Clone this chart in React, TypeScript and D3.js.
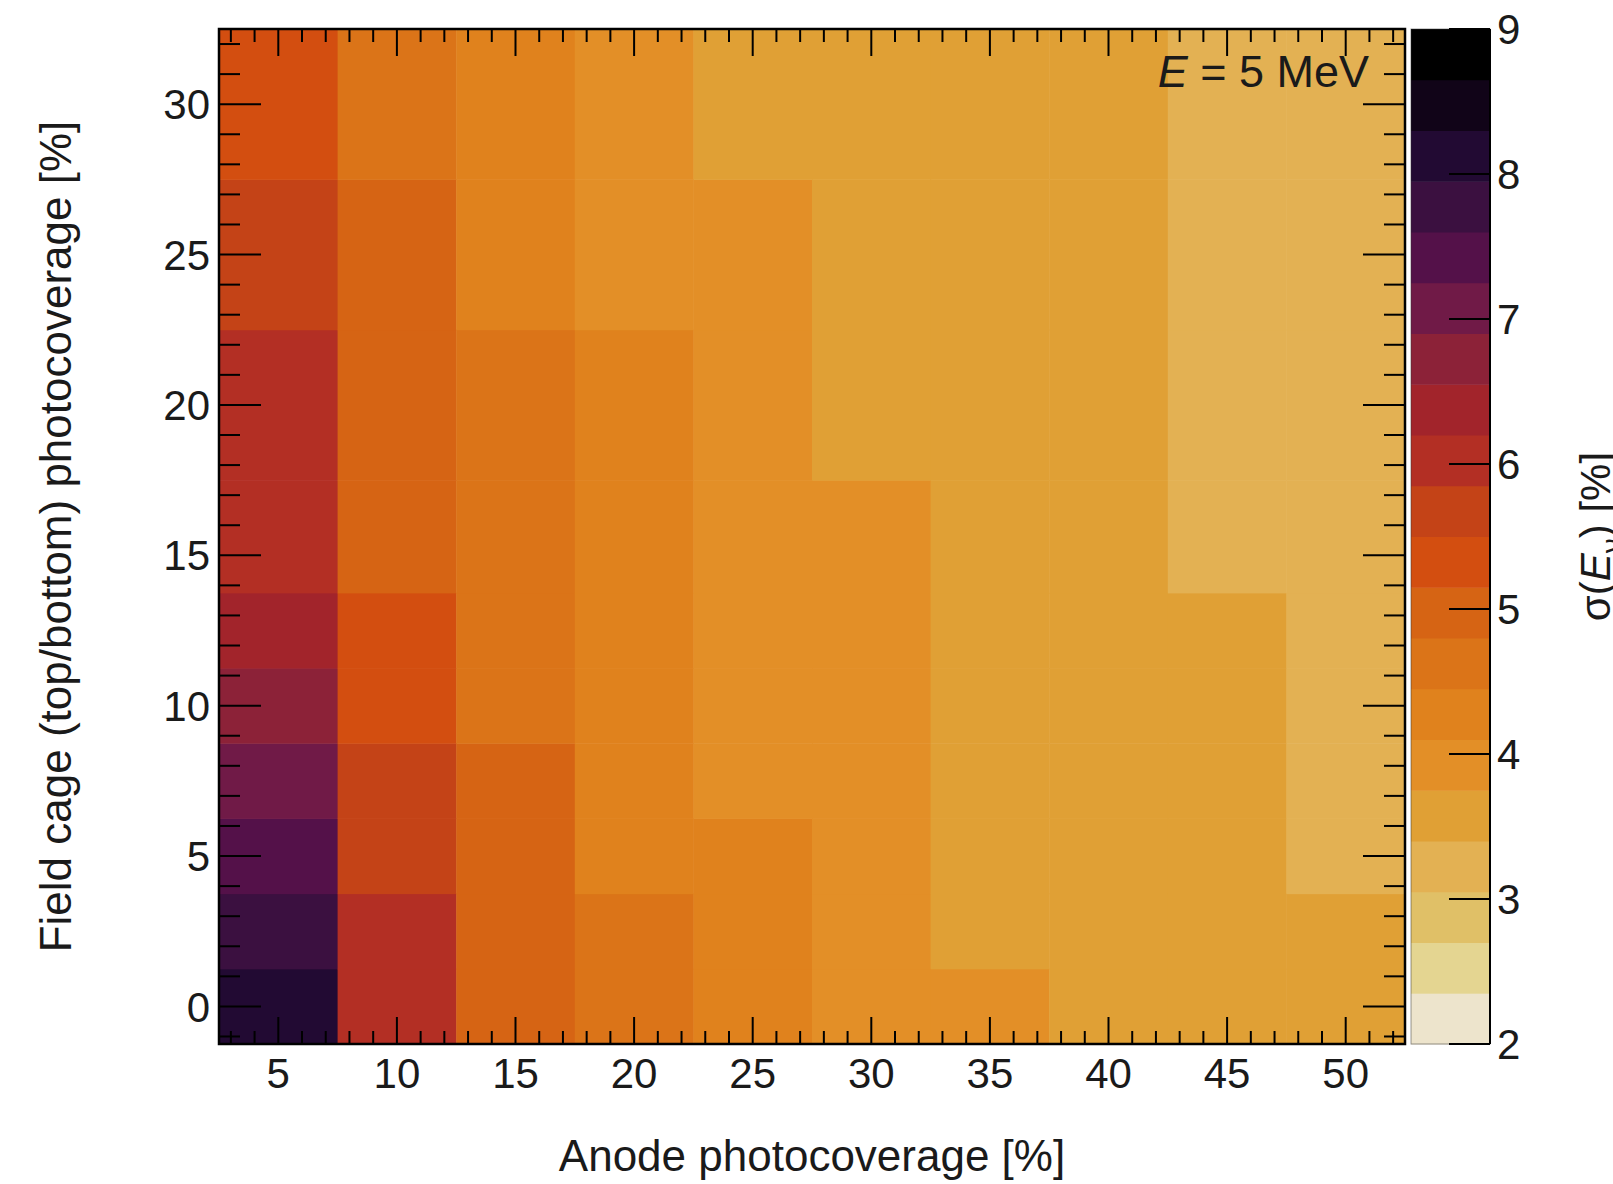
import React, { useEffect } from "react";
import * as d3 from "d3";

// bin centres
const anodeCoverage = [5, 10, 15, 20, 25, 30, 35, 40, 45, 50];
const fieldCageCoverage = [0, 2.5, 5, 7.5, 10, 12.5, 15, 20, 25, 30];

// sigma(E) [%] per anode column, listed from field cage 0% up to 30%
const sigmaAnode5 = [8.12, 7.78, 7.41, 7.06, 6.7, 6.35, 6.05, 5.98, 5.7, 5.33];
const sigmaAnode10 = [6.1, 5.95, 5.72, 5.6, 5.4, 5.25, 5.02, 4.95, 4.88, 4.6];
const sigmaAnode15 = [5.05, 4.98, 4.9, 4.83, 4.7, 4.58, 4.52, 4.47, 4.3, 4.2];
const sigmaAnode20 = [4.65, 4.5, 4.4, 4.35, 4.28, 4.22, 4.18, 4.12, 4.02, 3.9];
const sigmaAnode25 = [4.38, 4.25, 4.15, 4.05, 3.98, 3.92, 3.88, 3.84, 3.8, 3.6];
const sigmaAnode30 = [4.02, 3.98, 3.94, 3.9, 3.86, 3.82, 3.78, 3.7, 3.62, 3.52];
const sigmaAnode35 = [3.8, 3.72, 3.68, 3.64, 3.6, 3.57, 3.54, 3.5, 3.46, 3.42];
const sigmaAnode40 = [3.72, 3.68, 3.64, 3.6, 3.56, 3.52, 3.5, 3.46, 3.44, 3.41];
const sigmaAnode45 = [3.68, 3.63, 3.58, 3.54, 3.49, 3.44, 3.38, 3.3, 3.25, 3.18];
const sigmaAnode50 = [3.62, 3.52, 3.38, 3.33, 3.28, 3.24, 3.2, 3.15, 3.12, 3.08];

const sigmaByAnode = [
  sigmaAnode5, sigmaAnode10, sigmaAnode15, sigmaAnode20, sigmaAnode25,
  sigmaAnode30, sigmaAnode35, sigmaAnode40, sigmaAnode45, sigmaAnode50,
];

const xTickLabels = [5, 10, 15, 20, 25, 30, 35, 40, 45, 50];
const yTickLabels = [0, 5, 10, 15, 20, 25, 30];
const zTickLabels = [2, 3, 4, 5, 6, 7, 8, 9];

// 20 contour colours, low -> high
const palette = [
  "#ede4cc", "#e4d591", "#e0c067", "#e3b153", "#e0a035",
  "#e38f27", "#e0821d", "#db7418", "#d66414", "#d34e10",
  "#c44317", "#b32f24", "#a2242b", "#8c2238", "#701a47",
  "#541149", "#3b1040", "#220a33", "#110418", "#000000",
];

const W = 1613;
const H = 1184;
const left = 219, right = 1405, top = 29, bottom = 1044;
const barL = 1411, barR = 1490;
const font = "'Liberation Sans', Arial, Helvetica, sans-serif";
const ink = "#1a1a1a";

const App = () => {
  useEffect(() => {
    document.body.style.margin = "0";
    document.body.style.overflow = "hidden";
  }, []);

  const x = d3.scaleLinear().domain([2.5, 52.5]).range([left, right]);
  const y = d3.scaleLinear().domain([-1.25, 32.5]).range([bottom, top]);
  const z = d3.scaleLinear().domain([2, 9]).range([bottom, top]);
  const color = d3.scaleQuantize<string>().domain([2, 9]).range(palette);

  // bin edges: halfway between centres
  const yc = fieldCageCoverage;
  const yEdges = yc.map((v, i) => (i === 0 ? v - (yc[1] - yc[0]) / 2 : (v + yc[i - 1]) / 2));
  yEdges.push(yc[yc.length - 1] + (yc[yc.length - 1] - yc[yc.length - 2]) / 2);
  const halfX = (anodeCoverage[1] - anodeCoverage[0]) / 2;

  const cells = [];
  anodeCoverage.forEach((a, i) => {
    fieldCageCoverage.forEach((f, j) => {
      cells.push({ a, f, j, v: sigmaByAnode[i][j] });
    });
  });

  const xMinor = d3.range(3, 53, 1);
  const yMinor = d3.range(-1, 33, 1);
  const xMajorLen = 27, xMinorLen = 13, yMajorLen = 42, yMinorLen = 21;

  const nBands = palette.length;
  const step = (9 - 2) / nBands;

  return (
    <div style={{ position: "absolute", left: 0, top: 0 }}>
      <svg width={W} height={H} style={{ display: "block", background: "#fff" }}>
        {/* heatmap cells */}
        {cells.map((c, k) => (
          <rect
            key={k}
            x={x(c.a - halfX)}
            y={y(yEdges[c.j + 1])}
            width={x(c.a + halfX) - x(c.a - halfX) + 0.5}
            height={y(yEdges[c.j]) - y(yEdges[c.j + 1]) + 0.5}
            fill={color(c.v)}
          />
        ))}

        {/* x ticks bottom & top */}
        <g stroke="#000" strokeWidth={2}>
          {xMinor.map((t) => {
            const major = t % 5 === 0;
            const len = major ? xMajorLen : xMinorLen;
            return (
              <g key={"xt" + t}>
                <line x1={x(t)} x2={x(t)} y1={bottom} y2={bottom - len} />
                <line x1={x(t)} x2={x(t)} y1={top} y2={top + len} />
              </g>
            );
          })}
          {yMinor.map((t) => {
            const major = t % 5 === 0;
            const len = major ? yMajorLen : yMinorLen;
            return (
              <g key={"yt" + t}>
                <line x1={left} x2={left + len} y1={y(t)} y2={y(t)} />
                <line x1={right} x2={right - len} y1={y(t)} y2={y(t)} />
              </g>
            );
          })}
        </g>

        {/* frame */}
        <rect x={left} y={top} width={right - left} height={bottom - top} fill="none" stroke="#000" strokeWidth={2.5} />

        {/* tick labels */}
        <g fontFamily={font} fontSize={42} fill={ink}>
          {xTickLabels.map((t) => (
            <text key={"xl" + t} x={x(t)} y={1088} textAnchor="middle">{t}</text>
          ))}
          {yTickLabels.map((t) => (
            <text key={"yl" + t} x={210} y={y(t)} dy="0.36em" textAnchor="end">{t}</text>
          ))}
        </g>

        {/* axis titles */}
        <text x={(left + right) / 2} y={1171} textAnchor="middle" fontFamily={font} fontSize={44} fill={ink}>
          Anode photocoverage [%]
        </text>
        <text
          transform={`translate(71, ${(top + bottom) / 2}) rotate(-90)`}
          textAnchor="middle"
          fontFamily={font}
          fontSize={44}
          fill={ink}
        >
          Field cage (top/bottom) photocoverage [%]
        </text>

        {/* energy label */}
        <text x={1369} y={87} textAnchor="end" fontFamily={font} fontSize={45} fill={ink}>
          <tspan fontStyle="italic">E</tspan> = 5 MeV
        </text>

        {/* colour bar */}
        {d3.range(nBands).map((i) => (
          <rect
            key={"cb" + i}
            x={barL}
            y={z(2 + (i + 1) * step)}
            width={barR - barL}
            height={z(2 + i * step) - z(2 + (i + 1) * step) + 0.5}
            fill={palette[i]}
          />
        ))}
        <rect x={barL} y={top} width={barR - barL} height={bottom - top} fill="none" stroke="#333" strokeWidth={1} strokeOpacity={0.5} />
        <line x1={barR} x2={barR} y1={top} y2={bottom} stroke="#000" strokeWidth={2} />
        <g stroke="#000" strokeWidth={2}>
          {zTickLabels.map((t) => (
            <line key={"zt" + t} x1={barR} x2={barR - 41} y1={z(t)} y2={z(t)} />
          ))}
        </g>
        <g fontFamily={font} fontSize={42} fill={ink}>
          {zTickLabels.map((t) => (
            <text key={"zl" + t} x={1497} y={z(t)} dy="0.36em">{t}</text>
          ))}
        </g>
        <text
          transform={`translate(1610, ${(top + bottom) / 2}) rotate(-90)`}
          textAnchor="middle"
          fontFamily={font}
          fontSize={42}
          fill={ink}
        >
          σ(<tspan fontStyle="italic">E</tspan>
          <tspan fontSize={30} dy={12}>ν</tspan>
          <tspan dy={-12}>) [%]</tspan>
        </text>
      </svg>
    </div>
  );
};

export default App;
